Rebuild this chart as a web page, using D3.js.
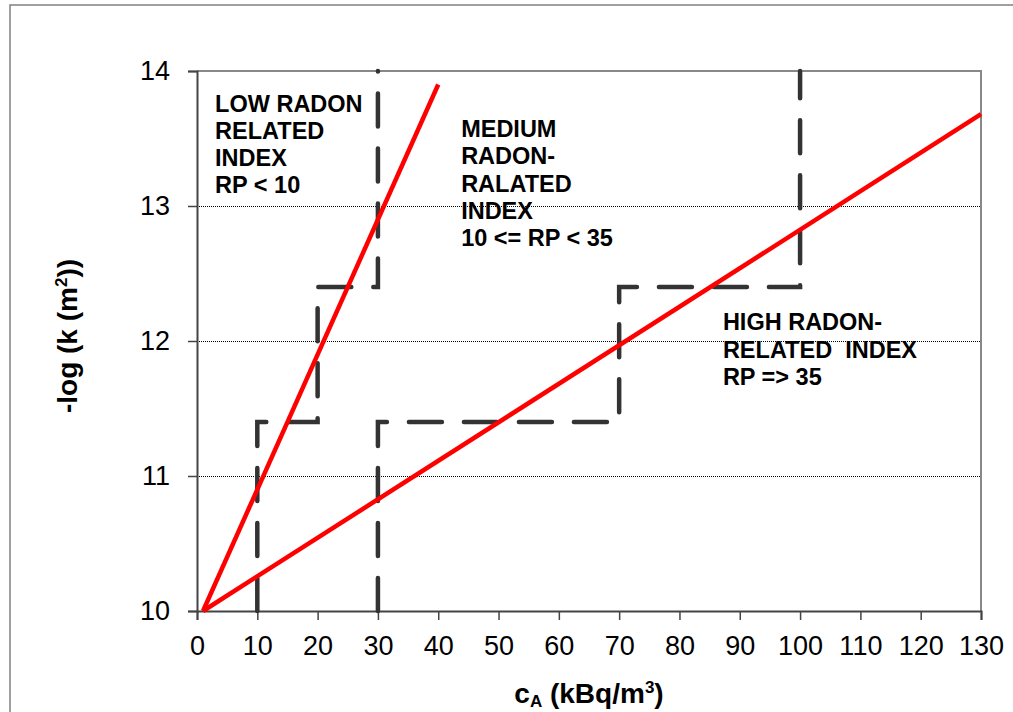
<!DOCTYPE html>
<html lang="en">
<head>
  <meta charset="UTF-8">
  <title>Radon related index</title>
  <script src="https://d3js.org/d3.v7.min.js"></script>
  <style>
    body {
      margin: 0;
      background: #fff;
      font-family: Arial, "Liberation Sans", sans-serif;
    }
    svg {
      display: block;
    }
    .tick-label {
      font-size: 27px;
      fill: #000;
    }
    .note {
      font-size: 23.5px;
      font-weight: bold;
      fill: #000;
    }
    .axis-title {
      font-size: 28px;
      font-weight: bold;
      fill: #000;
    }
    .grid {
      stroke: #000;
      stroke-width: 1;
      stroke-dasharray: 1,1;
    }
    .border {
      fill: none;
      stroke: #888;
      stroke-width: 2;
    }
    .red-line {
      fill: none;
      stroke: #ff0000;
      stroke-width: 4.5;
    }
    .step-line {
      fill: none;
      stroke: #333;
      stroke-width: 4.5;
      stroke-dasharray: 33,22;
      stroke-linecap: round;
    }
  </style>
</head>
<body>
  <svg id="chart" width="1013" height="712"></svg>

  <script>
    // axis ticks
    const xTicks = [0, 10, 20, 30, 40, 50, 60, 70, 80, 90, 100, 110, 120, 130];
    const yTicks = [10, 11, 12, 13, 14];
    const gridValues = [11, 12, 13];

    // red boundary lines
    const lowLine = [[1, 10], [40, 13.9]];
    const highLine = [[1, 10], [130, 13.68]];

    // dashed step boundaries
    const stepLow = [[10, 10], [10, 11.4], [20, 11.4], [20, 12.4], [30, 12.4], [30, 14]];
    const stepHigh = [[30, 10], [30, 11.4], [70, 11.4], [70, 12.4], [100, 12.4], [100, 14]];

    // annotations: anchor in data units + lines of text
    const notes = [
      { x: 3, y: 13.70, lines: ["LOW RADON", "RELATED", "INDEX", "RP < 10"] },
      { x: 43.8, y: 13.51, lines: ["MEDIUM", "RADON-", "RALATED", "INDEX", "10 <= RP < 35"] },
      { x: 87.2, y: 12.08, lines: ["HIGH RADON-", "RELATED  INDEX", "RP => 35"] }
    ];

    const svg = d3.select("#chart");
    const plotLeft = 197, plotRight = 981, plotTop = 71, plotBottom = 611;

    const x = d3.scaleLinear().domain([0, 130]).range([plotLeft, plotRight]);
    const y = d3.scaleLinear().domain([10, 14]).range([plotBottom, plotTop]);

    // outer frame (runs off the right and bottom edges)
    svg.append("rect")
      .attr("x", 10).attr("y", 5)
      .attr("width", 1030).attr("height", 740)
      .attr("fill", "none")
      .attr("stroke", "#808080")
      .attr("stroke-width", 1.5);

    // grid lines
    svg.append("g")
      .selectAll("line")
      .data(gridValues)
      .join("line")
      .attr("class", "grid")
      .attr("x1", plotLeft).attr("x2", plotRight)
      .attr("y1", d => Math.round(y(d)) + 0.5)
      .attr("y2", d => Math.round(y(d)) + 0.5);

    // plot border: top + right gray
    svg.append("path")
      .attr("class", "border")
      .attr("d", `M${plotLeft},${plotTop}H${plotRight}V${plotBottom}`);

    // axes
    const xAxis = d3.axisBottom(x).tickValues(xTicks).tickFormat(d3.format("d"))
      .tickSize(9).tickPadding(16);
    const gx = svg.append("g")
      .attr("transform", `translate(0,${plotBottom})`)
      .call(xAxis);
    gx.select(".domain").attr("stroke", "#444").attr("stroke-width", 2);
    gx.selectAll(".tick line").attr("stroke", "#444").attr("stroke-width", 1.5);
    gx.selectAll(".tick text")
      .attr("class", "tick-label")
      .attr("dy", "0.71em")
      .style("font-family", "Arial, 'Liberation Sans', sans-serif");

    const yAxis = d3.axisLeft(y).tickValues(yTicks).tickFormat(d3.format("d"))
      .tickSize(9).tickPadding(18);
    const gy = svg.append("g")
      .attr("transform", `translate(${plotLeft},0)`)
      .call(yAxis);
    gy.select(".domain").attr("stroke", "#444").attr("stroke-width", 2);
    gy.selectAll(".tick line").attr("stroke", "#444").attr("stroke-width", 1.5);
    gy.selectAll(".tick text")
      .attr("class", "tick-label")
      .style("font-family", "Arial, 'Liberation Sans', sans-serif");

    const line = d3.line().x(d => x(d[0])).y(d => y(d[1]));

    // dashed steps
    svg.append("g")
      .selectAll("path")
      .data([stepLow, stepHigh])
      .join("path")
      .attr("class", "step-line")
      .attr("d", line);

    // red lines
    svg.append("g")
      .selectAll("path")
      .data([lowLine, highLine])
      .join("path")
      .attr("class", "red-line")
      .attr("d", line);

    // annotations
    notes.forEach(n => {
      const t = svg.append("text")
        .attr("class", "note")
        .attr("x", x(n.x))
        .attr("y", y(n.y));
      n.lines.forEach((s, i) => {
        t.append("tspan")
          .attr("x", x(n.x))
          .attr("dy", i === 0 ? 0 : 27.3)
          .style("white-space", "pre")
          .text(s);
      });
    });

    // axis titles
    const xt = svg.append("text")
      .attr("class", "axis-title")
      .attr("x", (plotLeft + plotRight) / 2)
      .attr("y", 703)
      .attr("text-anchor", "middle");
    xt.append("tspan").text("c");
    xt.append("tspan").attr("font-size", 17).attr("dy", 4).text("A");
    xt.append("tspan").attr("dy", -4).text(" (kBq/m");
    xt.append("tspan").attr("font-size", 17).attr("dy", -10).text("3");
    xt.append("tspan").attr("dy", 10).text(")");

    const yt = svg.append("text")
      .attr("class", "axis-title")
      .attr("transform", `translate(77,336) rotate(-90)`)
      .attr("text-anchor", "middle");
    yt.append("tspan").text("-log (k (m");
    yt.append("tspan").attr("font-size", 17).attr("dy", -10).text("2");
    yt.append("tspan").attr("dy", 10).text("))");
  </script>
</body>
</html>
